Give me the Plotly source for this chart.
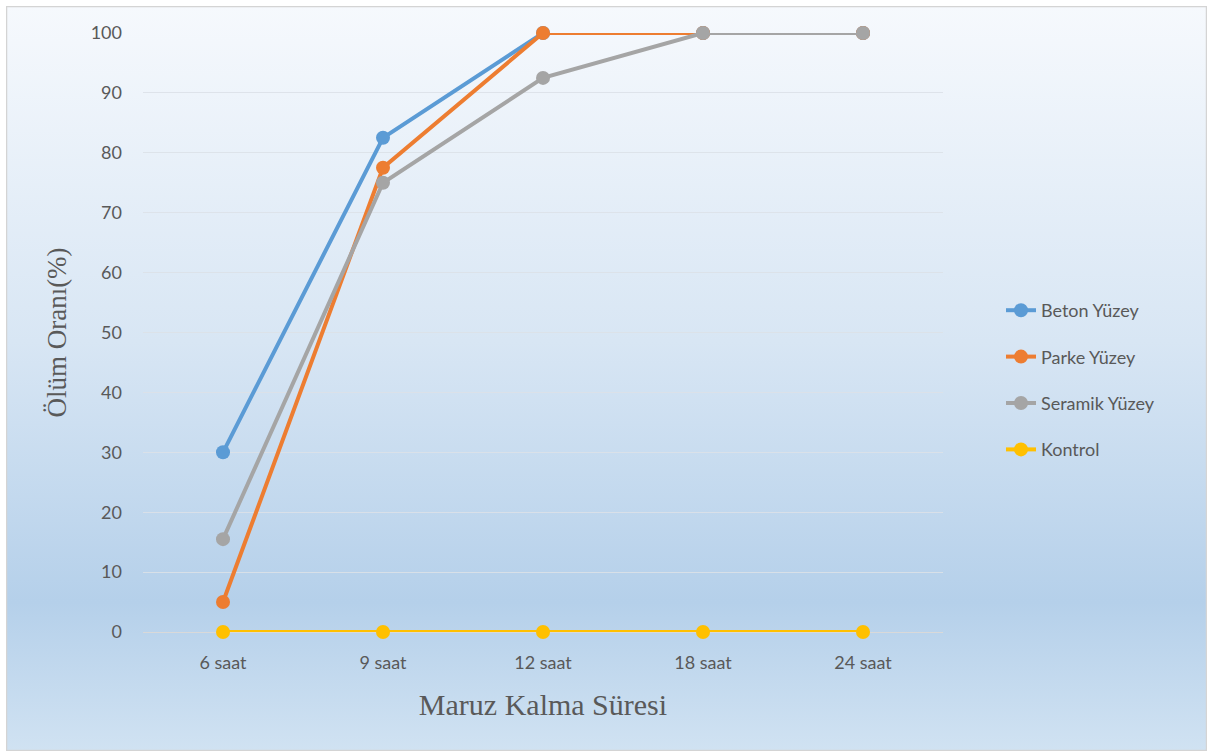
import base64
import plotly.graph_objects as go

categories = ["6 saat", "9 saat", "12 saat", "18 saat", "24 saat"]
beton = [30, 82.5, 100, 100, 100]
parke = [5, 77.5, 100, 100, 100]
seramik = [15.5, 75, 92.5, 100, 100]
kontrol = [0, 0, 0, 0, 0]

series = [
    ("Beton Yüzey", beton, "#5b9bd5"),
    ("Parke Yüzey", parke, "#ed7d31"),
    ("Seramik Yüzey", seramik, "#a5a5a5"),
    ("Kontrol", kontrol, "#ffc000"),
]

fig = go.Figure()
for i, (name, vals, col) in enumerate(series):
    fig.add_trace(go.Scatter(
        x=categories, y=vals, name=name, mode="lines+markers",
        line=dict(color=col, width=4),
        marker=dict(color=col, size=14),
        legendgroup=f"g{i}", cliponaxis=False,
    ))

svg = """<svg xmlns='http://www.w3.org/2000/svg' width='1201' height='745' viewBox='0 0 1201 745' preserveAspectRatio='none'>
<defs><linearGradient id='g' x1='0' y1='0' x2='0' y2='1'>
<stop offset='0' stop-color='#f6f9fd'/>
<stop offset='0.45' stop-color='#d8e6f4'/>
<stop offset='0.8' stop-color='#b5d0ea'/>
<stop offset='1' stop-color='#d0e2f2'/>
</linearGradient></defs>
<rect x='0.5' y='0.5' width='1200' height='744' fill='url(#g)' stroke='#d4d4d4' stroke-width='1.5'/>
</svg>"""
src = "data:image/svg+xml;base64," + base64.b64encode(svg.encode("utf-8")).decode()

W, H = 800.0, 599.0
fig.add_layout_image(dict(
    source=src, xref="paper", yref="paper",
    x=(6 - 143) / W, y=(632 - 6) / H,
    sizex=1201 / W, sizey=745 / H,
    xanchor="left", yanchor="top", sizing="stretch", layer="below",
))

fig.update_layout(
    width=1214, height=756,
    margin=dict(l=143, r=271, t=33, b=124),
    paper_bgcolor="white",
    plot_bgcolor="rgba(0,0,0,0)",
    font=dict(family="Lato, Open Sans, sans-serif", color="#595959", size=18),
    legend=dict(
        x=(1001 - 143) / W, y=(632 - 380) / H, xanchor="left", yanchor="middle",
        traceorder="grouped", tracegroupgap=20,
        font=dict(size=18, color="#595959"),
        bgcolor="rgba(0,0,0,0)",
    ),
    xaxis=dict(
        type="category", range=[-0.5, 4.5],
        showgrid=False, showline=False, ticks="",
        ticklabelstandoff=18,
        tickfont=dict(size=18, color="#595959"),
        title=dict(text="Maruz Kalma Süresi", standoff=21,
                   font=dict(family="Liberation Serif, serif", size=30, color="#595959")),
        zeroline=False,
    ),
    yaxis=dict(
        range=[0, 100], dtick=10, showgrid=True,
        gridcolor="rgba(220,225,232,0.9)", gridwidth=1,
        zeroline=True, zerolinecolor="#d9d9d9", zerolinewidth=1,
        showline=False, ticks="", ticklabelstandoff=20,
        tickfont=dict(size=18, color="#595959"),
        title=dict(text="Ölüm Oranı(%)", standoff=16,
                   font=dict(family="Liberation Serif, serif", size=27, color="#595959")),
    ),
)

fig.write_html("out.html")
